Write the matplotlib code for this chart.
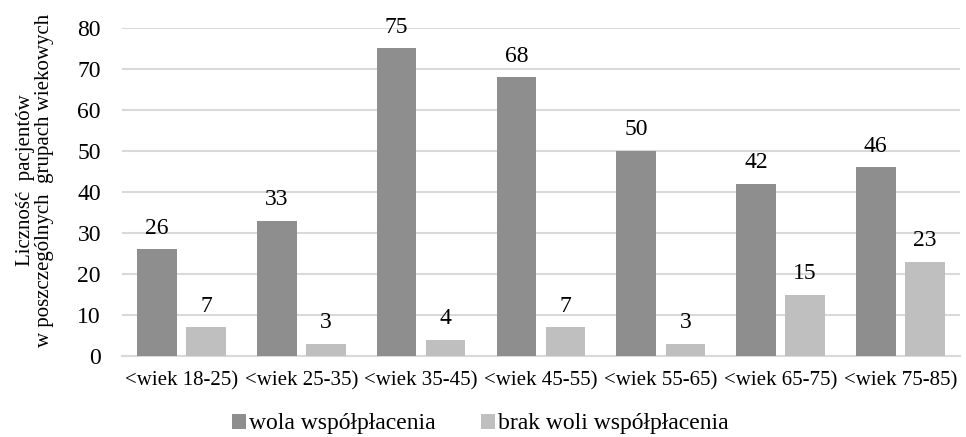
import numpy as np
import matplotlib.pyplot as plt

plt.rcParams['font.family'] = 'serif'
plt.rcParams['font.serif'] = ['Liberation Serif', 'DejaVu Serif']

categories = ['<wiek 18-25)', '<wiek 25-35)', '<wiek 35-45)', '<wiek 45-55)',
              '<wiek 55-65)', '<wiek 65-75)', '<wiek 75-85)']
wola = [26, 33, 75, 68, 50, 42, 46]
brak = [7, 3, 4, 7, 3, 15, 23]
series_labels = ['wola współpłacenia', 'brak woli współpłacenia']

fig = plt.figure(figsize=(9.66, 4.37), dpi=100)
ax = fig.add_axes([0.126, 0.185, 0.868, 0.751])

x = np.arange(len(categories))
w = 0.33
off = 0.205
b1 = ax.bar(x - off, wola, w, color='#8e8e8e', label=series_labels[0], zorder=3)
b2 = ax.bar(x + off, brak, w, color='#bfbfbf', label=series_labels[1], zorder=3)

# etykiety wartości nad słupkami
for bars in (b1, b2):
    for r in bars:
        ax.text(r.get_x() + r.get_width() / 2, r.get_height() + 3.8,
                f'{int(r.get_height())}', ha='center', va='baseline', fontsize=17)

ax.set_xlim(-0.5, len(categories) - 0.5)
ax.set_ylim(0, 80)
ax.set_yticks(np.arange(0, 81, 10))
ax.yaxis.grid(True, color='#d9d9d9', linewidth=1.5, zorder=0)
ax.set_axisbelow(True)
for s in ['top', 'right', 'left']:
    ax.spines[s].set_visible(False)
ax.spines['bottom'].set_color('#d9d9d9')
ax.spines['bottom'].set_linewidth(1.5)
ax.tick_params(axis='y', length=0, labelsize=17, pad=15)
ax.tick_params(axis='x', length=0, labelsize=15, pad=11)
ax.set_xticks(x)
ax.set_xticklabels(categories)
ax.set_ylabel('Liczność  pacjentów\nw poszczególnych  grupach wiekowych', fontsize=15,
              labelpad=17, linespacing=0.95)
ax.yaxis.label.set_y(0.537)

fig.legend(handles=[b1, b2], loc='center', bbox_to_anchor=(0.497, 13 / 437),
           ncol=2, frameon=False, fontsize=17, handlelength=0.6, handleheight=0.6,
           handletextpad=0.12, columnspacing=1.9)

fig.savefig('out.png', dpi=100)
